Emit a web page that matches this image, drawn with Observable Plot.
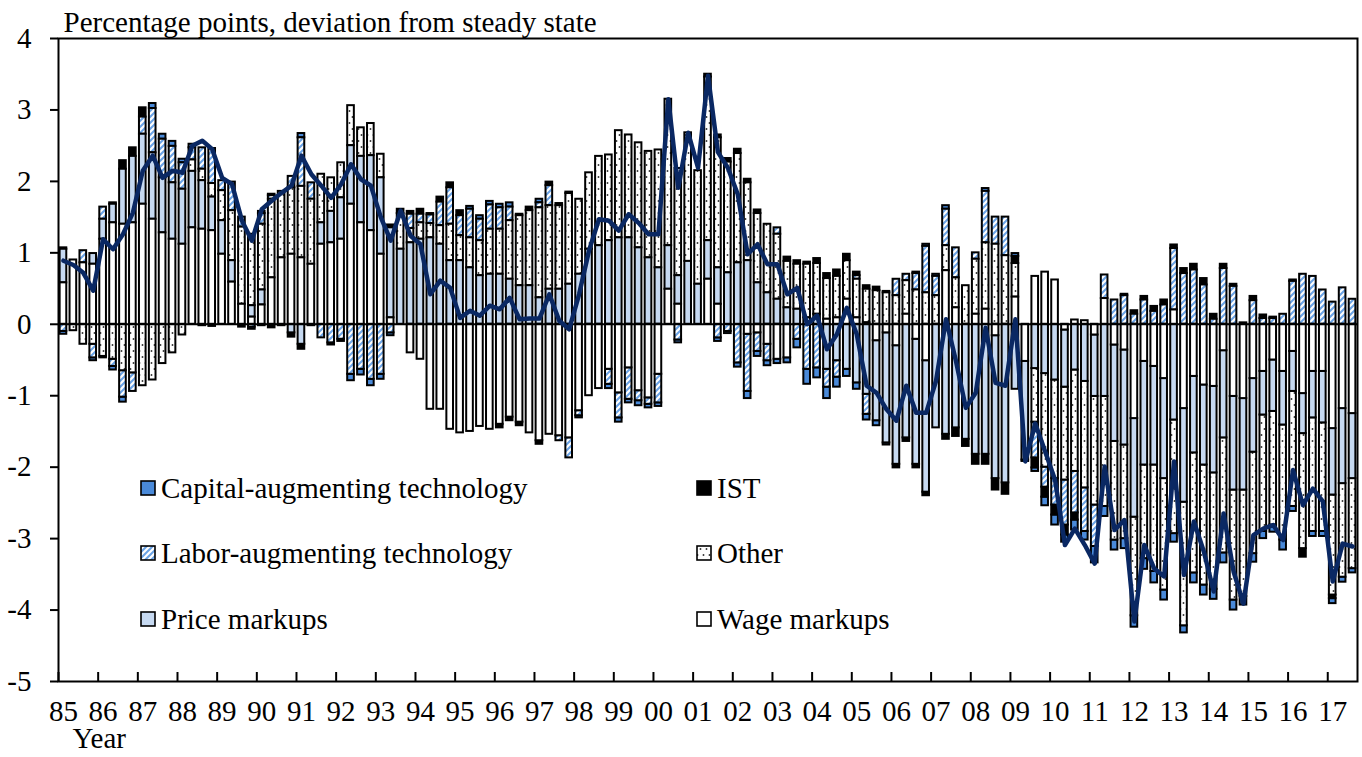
<!DOCTYPE html>
<html><head><meta charset="utf-8">
<script src="https://cdn.jsdelivr.net/npm/d3@7"></script>
<script src="https://cdn.jsdelivr.net/npm/@observablehq/plot@0.6"></script>
<style>body{margin:0;background:#fff;}</style>
</head><body><div id="chart"></div>
<script>
const startYear = 1985;
const yearLabels = ["85","86","87","88","89","90","91","92","93","94","95","96","97","98","99","00","01","02","03","04","05","06","07","08","09","10","11","12","13","14","15","16","17"];
const seriesNames = ["Capital-augmenting technology","IST","Labor-augmenting technology","Other","Price markups","Wage markups"];

const capital = [-0.04,0,0,-0.04,-0.02,-0.05,-0.07,0,0,0.07,0.07,0.07,0.05,0.05,0,0,0,0,0,-0.03,-0.02,0.02,0,0,0.06,0,0,0,-0.03,-0.09,-0.08,-0.09,-0.07,-0.04,0,0,0,0.02,0,0,0,0.04,0.05,0.05,0.05,0.06,0.02,0,0.05,0,0.03,0.02,-0.03,0,0,-0.06,-0.06,-0.05,-0.07,-0.05,-0.05,0,-0.04,0,0,0,-0.05,-0.03,-0.06,-0.10,-0.07,-0.07,-0.06,-0.07,-0.12,-0.21,-0.14,-0.16,-0.14,-0.10,-0.09,-0.08,-0.07,-0.03,0,0,0.02,0.03,0.03,0.05,0,0,0,0.04,0,0,0.04,0,-0.05,-0.12,-0.14,-0.10,-0.14,-0.12,-0.23,-0.14,-0.14,-0.14,-0.16,-0.15,-0.16,-0.14,-0.12,-0.10,-0.14,-0.14,-0.14,-0.14,-0.14,-0.12,-0.12,-0.10,-0.10,-0.14,-0.07,0,-0.07,-0.07,-0.07,-0.07,-0.06];
const ist = [0.02,0,0,0,0,0.02,0.12,0.12,0.13,0,0,0,0,0,-0.02,-0.03,0,0,-0.04,0,0.03,-0.05,-0.02,-0.06,-0.07,-0.02,0,-0.03,0,0,0,0,0,0.04,0.06,0.04,0.07,0,0.07,0.07,0.07,0,0,0,-0.05,-0.05,-0.05,0.05,-0.05,0.05,0,0,0,0,0,0,0,0,0,0,0,0,0,0,0,0.04,0.04,0.05,0.06,0.05,0.05,0,0,0.06,0.05,0.03,0.07,0.07,0.09,0.09,0.05,0.05,0.05,0.02,-0.05,-0.05,-0.05,-0.05,0,-0.07,-0.12,-0.10,-0.14,-0.14,-0.16,-0.16,0.10,-0.02,-0.14,-0.14,-0.14,-0.14,-0.10,0,0,0,0,0.02,0.05,0.05,0.07,0.07,0.05,0.07,0.08,0.09,0.07,0.06,0.03,0,0.06,0.05,0.02,0,0.02,-0.12,0,0,-0.05,0,0];
const labor = [-0.10,0,0.17,-0.19,0.17,-0.10,-0.37,-0.26,0.24,0.62,0.54,0.51,0.37,0.17,0.30,0.49,0.14,0.40,0.14,-0.04,0.15,0.05,0,0.16,0.68,0.23,-0.19,-0.26,-0.21,-0.70,-0.63,-0.77,-0.70,-0.12,0,0.20,0.12,0.12,0.33,0.51,0.28,0.40,0.30,0.34,0.30,0.19,0,0,0.07,0.28,-0.07,-0.28,-0.07,0,0,-0.21,-0.35,-0.44,-0.14,-0.09,-0.40,0,-0.22,0,0,0,-0.19,-0.10,-0.54,-0.80,-0.26,-0.23,0.09,0,-0.21,-0.63,-0.61,-0.25,-0.23,0,0.05,-0.28,0,0,0.23,0.09,0.23,0.65,0.27,0.51,0.42,0,0.09,0.72,0.38,0.54,0,0,-0.50,-0.28,-0.37,-0.63,-0.58,-0.61,-0.58,0.33,0.34,0.40,0.14,0.34,0.18,0.27,0.86,0.71,0.76,0.55,0.07,0.78,0.53,0.02,0.33,0.08,0.08,0.14,0.60,0.70,0.67,0.48,0.31,0.51,0.35];
const other = [0,-0.09,-0.28,-0.28,-0.45,-0.49,-0.65,-0.68,-0.86,-0.78,-0.55,-0.40,-0.15,0.16,0.16,0.19,0.42,0.70,1.08,1.00,0.92,1.10,0.93,0.93,1.00,0.91,0.68,0.47,0.49,0.56,0.40,0.45,0.33,0,0.50,0.20,0.23,0.20,0.26,0.51,0.35,0.42,0.49,0.63,0.63,0.82,0.98,1.05,1.26,1.17,1.17,1.27,1.05,1.07,1.25,1.20,1.50,1.44,1.47,1.49,1.65,2.05,1.50,1.80,1.59,2.29,1.82,1.55,1.53,1.09,0.97,0.96,0.91,0.65,0.63,0.75,0.71,0.57,0.58,0.54,0.54,0.47,0.47,0.44,0.40,0.47,0.48,0.44,0.40,0.35,0.42,0.54,0.77,0.93,1.12,0.96,0.47,0,-0.75,-1.31,-1.38,-1.30,-1.42,-1.49,-1.52,-1.54,-1.38,-1.31,-1.38,-1.31,-1.49,-1.56,-1.59,-1.73,-1.68,-1.68,-1.63,-1.61,-1.54,-1.49,-1.42,-1.63,-1.59,-1.61,-1.61,-1.61,-1.59,-1.52,-1.40,-1.31,-1.26];
const price = [0.47,0,0,0.15,0.28,0.26,0.77,0.93,0.98,0.93,0.77,0.79,0.77,0.79,0.68,0.47,0.47,0.30,0,0.16,0.21,0,0,-0.12,-0.28,0,0.30,0.44,0.58,0.82,0.93,1.05,1.07,1.26,1.05,1.14,1.19,1.21,1.12,0.89,0.89,0.79,0.68,0.70,0.70,0.63,0.54,0.54,0.37,0.49,0.49,0.56,0.70,1.05,1.10,1.17,1.21,1.21,1.07,0.93,0.79,0.61,0.40,0.88,0.56,0.54,0.51,0.72,0.86,0.89,0.58,0.44,0.35,0.23,0.21,0.09,0.14,-0.63,-0.51,-0.63,-0.82,-0.98,-1.12,-1.54,-1.66,-1.59,-1.75,-1.84,-1.45,-1.54,-1.45,-1.61,-1.82,-1.82,-2.00,-2.22,-0.91,-1.38,-0.62,-0.69,-0.78,-0.80,-0.64,-0.80,-0.86,-1.01,-1.35,-1.33,-1.38,-1.45,-1.38,-1.40,-1.34,-1.31,-1.07,-1.12,-1.21,-1.22,-1.31,-1.28,-1.03,-0.61,-0.72,-0.75,-0.56,-0.56,-0.65,-0.72,-0.93,-1.05,-0.91];
const wage = [0.58,0.90,0.86,0.84,1.19,1.42,1.40,1.42,1.68,1.47,1.28,1.19,1.12,1.35,1.33,1.31,0.98,0.59,0.28,0.10,0.27,0.65,0.93,0.98,0.93,0.84,1.12,1.14,1.19,1.68,1.42,1.31,0.98,0.09,0,-0.40,-0.49,-1.19,-1.19,-1.47,-1.52,-1.50,-1.43,-1.47,-1.40,-1.30,-1.37,-1.52,-1.63,-1.54,-1.56,-1.59,-1.21,-1.00,-0.90,-0.63,-0.96,-0.61,-0.93,-1.03,-0.70,0.49,0.28,0,0,0.63,0.28,0,0,-0.14,-0.12,-0.28,-0.49,-0.47,0,0,0,0.07,0.09,0.35,0.09,0.02,-0.23,-0.12,-0.30,0.14,-0.21,-0.51,0,0.75,0.23,0,0.14,0.21,-0.16,0,0.38,-0.52,0.67,0.73,0.62,-0.08,0.06,0.05,-0.15,0.36,-0.29,-0.36,-1.32,-0.52,-0.59,-0.76,0.20,-1.18,-0.73,-0.85,-0.87,-0.37,-1.01,-1.04,-0.76,-0.66,-0.50,-0.66,-0.38,-0.97,-0.66,-0.66,-1.46,-1.18,-1.25];
const total = [0.89,0.83,0.72,0.47,1.19,1.05,1.26,1.56,2.15,2.36,2.05,2.15,2.12,2.50,2.57,2.45,2.05,1.96,1.45,1.17,1.61,1.73,1.84,1.94,2.36,2.10,1.94,1.77,1.96,2.24,2.03,1.94,1.50,1.17,1.59,1.24,1.12,0.42,0.61,0.51,0.09,0.19,0.12,0.26,0.21,0.37,0.07,0.08,0.08,0.42,0.05,-0.07,0.42,1.03,1.47,1.45,1.31,1.54,1.42,1.26,1.26,3.15,1.91,2.68,2.19,3.48,2.41,2.19,1.82,0.98,1.12,0.84,0.84,0.42,0.51,0.00,0.12,-0.35,-0.14,0.23,-0.14,-0.86,-0.96,-1.19,-1.35,-0.86,-1.24,-1.24,-0.79,0.07,-0.51,-1.17,-0.96,-0.05,-0.82,-0.86,0.07,-1.92,-1.39,-1.78,-2.18,-3.09,-2.86,-3.09,-3.35,-1.99,-2.88,-2.74,-4.16,-3.09,-3.42,-3.53,-1.92,-3.51,-2.76,-3.18,-3.74,-2.65,-3.46,-3.91,-2.95,-2.86,-2.81,-3.02,-2.04,-2.53,-2.30,-2.48,-3.60,-3.07,-3.11];

const n = total.length;
const quarters = d3.range(n).map(i => `${startYear + Math.floor(i / 4)}Q${i % 4 + 1}`);
const seriesArrays = [capital, ist, labor, other, price, wage];
const rows = [];
seriesNames.forEach((s, k) => seriesArrays[k].forEach((v, i) => { if (v !== 0) rows.push({q: quarters[i], series: s, v}); }));
const lineRows = total.map((v, i) => ({q: quarters[i], v}));
const stackOrder = ["Wage markups","Price markups","Other","Labor-augmenting technology","IST","Capital-augmenting technology"];
const fills = ["#4a8ad9","#000000","url(#hatch)","url(#dots)","#c6d9f1","#ffffff"];
const yearStarts = quarters.filter(q => q.endsWith("Q1"));

const W = 1362, H = 757, mL = 58, mR = 5, mT = 38, mB = 76;
const step = (W - mL - mR) / n;
const pxPerUnit = (H - mT - mB) / 9;
const serif = "'Liberation Serif', 'Times New Roman', serif";

const chart = Plot.plot({
  width: W, height: H, marginLeft: mL, marginRight: mR, marginTop: mT, marginBottom: mB,
  style: {fontFamily: serif, fontSize: "29px", color: "black", background: "white", overflow: "visible"},
  x: {type: "band", domain: quarters, paddingInner: 0.33, paddingOuter: 0.165, axis: null, label: null},
  y: {domain: [-5, 4], axis: null, label: null},
  color: {domain: seriesNames, range: fills},
  marks: [
    Plot.barY(rows, Plot.stackY({x: "q", y: "v", z: "series", fill: "series", order: stackOrder, stroke: "black", strokeWidth: 2})),
    Plot.ruleY([0], {stroke: "black", strokeWidth: 2}),
    Plot.line(lineRows, {x: "q", y: "v", stroke: "#0a2863", strokeWidth: 4.5, strokeLinejoin: "round"}),
    Plot.frame({stroke: "black", strokeWidth: 2}),
    Plot.axisY({ticks: d3.range(-5, 5), tickFormat: d => String(d), tickSize: 8, tickPadding: 19, strokeWidth: 2, label: null}),
    Plot.axisX({ticks: yearStarts, tickFormat: d => yearLabels[yearStarts.indexOf(d)], tickSize: 0, tickPadding: 19, label: null}),
    Plot.ruleX(yearStarts, {x: d => d, dx: -step / 2, y1: -5, y2: -5 + 9 / pxPerUnit, stroke: "black", strokeWidth: 2}),
    Plot.text(["Percentage points, deviation from steady state"], {text: d => d, frameAnchor: "top-left", dx: 5, dy: -27, textAnchor: "start"}),
    Plot.text(["Year"], {text: d => d, frameAnchor: "bottom-left", dx: 14, dy: 66, textAnchor: "start"})
  ]
});

const svgEl = chart.tagName.toLowerCase() === "svg" ? chart : chart.querySelector("svg");
const svg = d3.select(svgEl);
const defs = svg.insert("defs", ":first-child");
const hatch = defs.append("pattern").attr("id", "hatch").attr("patternUnits", "userSpaceOnUse").attr("width", 6).attr("height", 6);
hatch.append("rect").attr("width", 6).attr("height", 6).attr("fill", "#6aa3e6");
hatch.append("path").attr("d", "M0,6 L6,0 M-1.5,1.5 L1.5,-1.5 M4.5,7.5 L7.5,4.5").attr("stroke", "#ffffff").attr("stroke-width", 2.2);
const dots = defs.append("pattern").attr("id", "dots").attr("patternUnits", "userSpaceOnUse").attr("width", 6).attr("height", 12);
dots.append("rect").attr("width", 6).attr("height", 12).attr("fill", "#ffffff");
dots.append("circle").attr("cx", 1.5).attr("cy", 3).attr("r", 0.95).attr("fill", "#333");
dots.append("circle").attr("cx", 4.5).attr("cy", 9).attr("r", 0.95).attr("fill", "#333");

const leg = svg.append("g").attr("font-family", serif).attr("font-size", 29).attr("text-anchor", "start");
const colX = [141, 697], rowY = [488, 553, 619];
seriesNames.forEach((s, k) => {
  const cx = colX[k % 2], cy = rowY[Math.floor(k / 2)];
  leg.append("rect").attr("x", cx).attr("y", cy - 7).attr("width", 14).attr("height", 14)
    .attr("fill", fills[k]).attr("stroke", "black").attr("stroke-width", 1.6);
  leg.append("text").attr("x", cx + 20).attr("y", cy).attr("dy", "0.35em").attr("text-anchor", "start").attr("fill", "black").text(s);
});

document.getElementById("chart").appendChild(chart);
</script>
</body></html>
